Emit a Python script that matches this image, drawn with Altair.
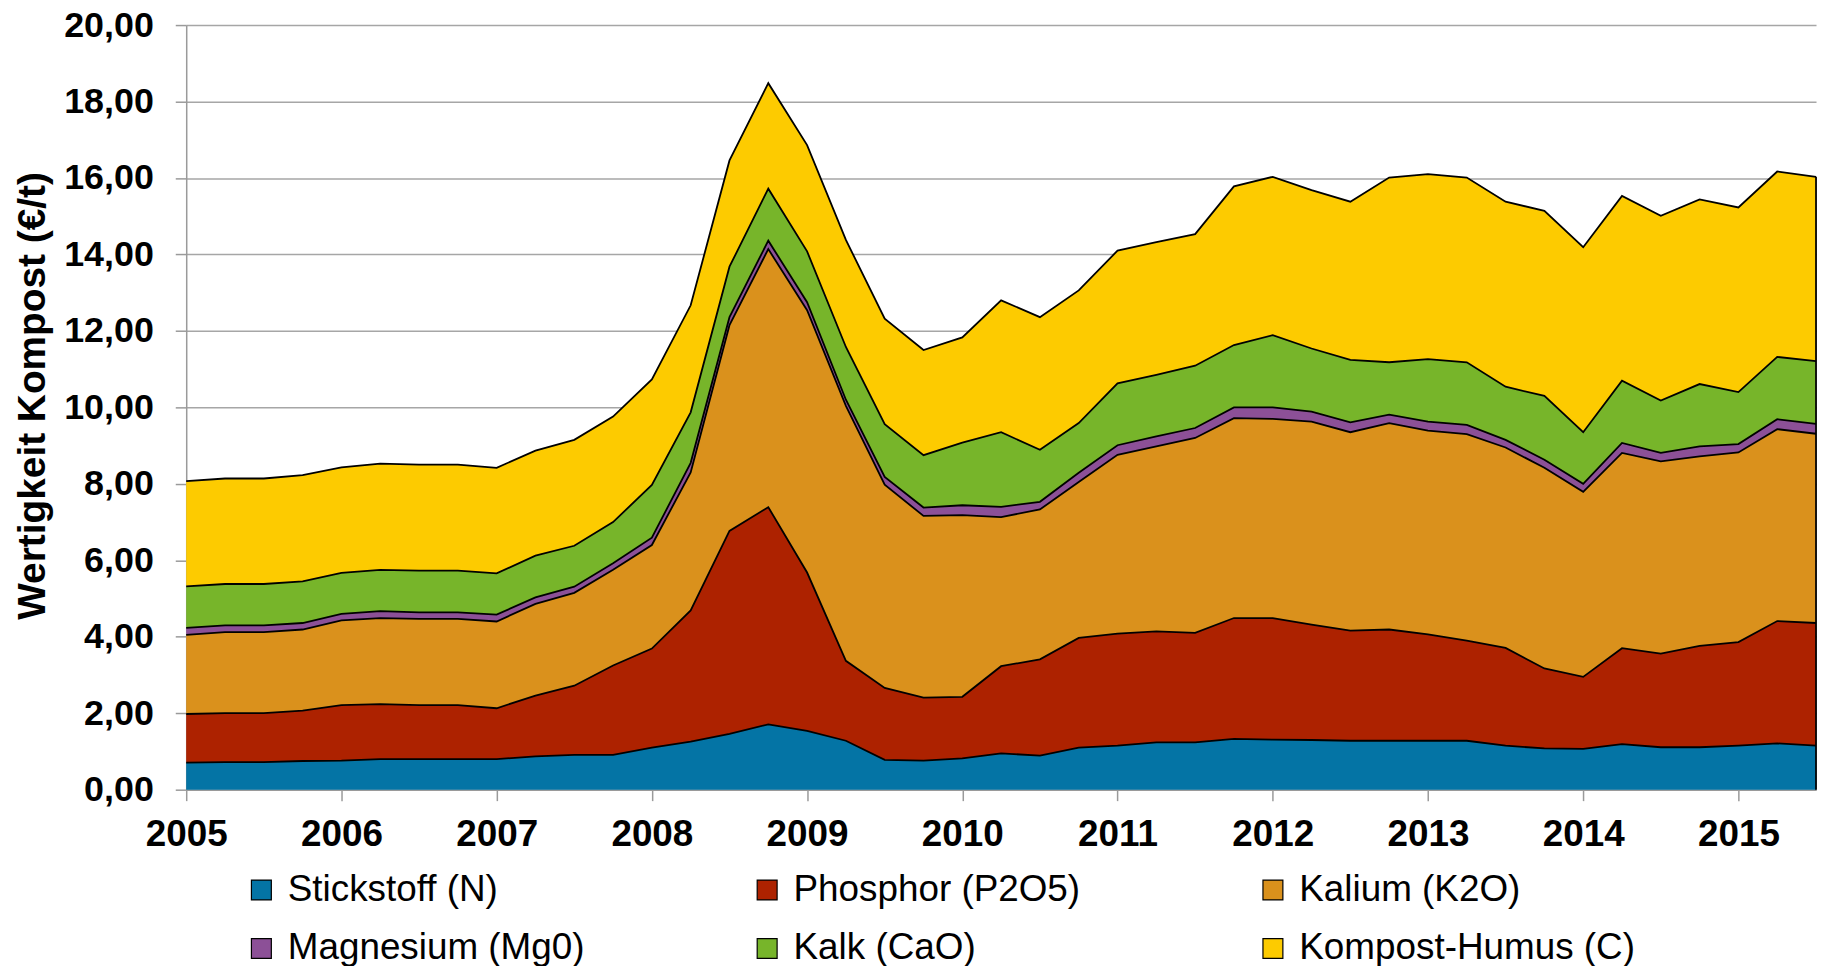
import altair as alt
import pandas as pd

quarters = [2005.0, 2005.25, 2005.5, 2005.75, 2006.0, 2006.25, 2006.5, 2006.75,
            2007.0, 2007.25, 2007.5, 2007.75, 2008.0, 2008.25, 2008.5, 2008.75,
            2009.0, 2009.25, 2009.5, 2009.75, 2010.0, 2010.25, 2010.5, 2010.75,
            2011.0, 2011.25, 2011.5, 2011.75, 2012.0, 2012.25, 2012.5, 2012.75,
            2013.0, 2013.25, 2013.5, 2013.75, 2014.0, 2014.25, 2014.5, 2014.75,
            2015.0, 2015.25, 2015.5]

series_names = ["Stickstoff (N)", "Phosphor (P2O5)", "Kalium (K2O)",
                "Magnesium (Mg0)", "Kalk (CaO)", "Kompost-Humus (C)"]
series_colors = ["#0474A5", "#AD2200", "#DA911C", "#8C5097", "#77B52A", "#FDCB00"]
# legend is laid out column by column: this order gives the reference's rows
legend_order = ["Stickstoff (N)", "Magnesium (Mg0)", "Phosphor (P2O5)",
                "Kalk (CaO)", "Kalium (K2O)", "Kompost-Humus (C)"]

stickstoff = [0.71, 0.72, 0.72, 0.75, 0.76, 0.80, 0.80, 0.80, 0.80, 0.87, 0.91, 0.91, 1.10,
              1.26, 1.46, 1.71, 1.54, 1.28, 0.78, 0.76, 0.82,
              0.95, 0.89, 1.10, 1.15, 1.24, 1.24, 1.33, 1.31,
              1.30, 1.28, 1.28, 1.28, 1.28, 1.15, 1.08, 1.07,
              1.19, 1.11, 1.11, 1.15, 1.21, 1.15]
phosphor = [1.27, 1.28, 1.28, 1.32, 1.45, 1.44, 1.41, 1.41, 1.33, 1.59, 1.81, 2.34, 2.59,
            3.43, 5.31, 5.68, 4.14, 2.09, 1.88, 1.65, 1.61,
            2.28, 2.52, 2.87, 2.93, 2.90, 2.86, 3.16, 3.18,
            3.02, 2.88, 2.91, 2.78, 2.62, 2.56, 2.09, 1.88,
            2.51, 2.45, 2.65, 2.71, 3.20, 3.21]
kalium = [2.07, 2.12, 2.12, 2.12, 2.22, 2.25, 2.26, 2.26, 2.27, 2.40, 2.43, 2.50, 2.71,
          3.61, 5.38, 6.75, 6.86, 6.67, 5.32, 4.75, 4.75,
          3.90, 3.92, 4.08, 4.68, 4.84, 5.10, 5.23, 5.21,
          5.31, 5.19, 5.40, 5.33, 5.40, 5.24, 5.25, 4.84,
          5.11, 5.03, 4.96, 4.96, 5.02, 4.95]
magnesium = [0.18, 0.18, 0.18, 0.17, 0.17, 0.18, 0.17, 0.17, 0.18, 0.17, 0.16, 0.17, 0.19,
             0.25, 0.21, 0.22, 0.21, 0.16, 0.20, 0.22, 0.26,
             0.27, 0.20, 0.24, 0.25, 0.26, 0.26, 0.28, 0.30,
             0.26, 0.26, 0.22, 0.24, 0.24, 0.20, 0.21, 0.21,
             0.26, 0.22, 0.26, 0.22, 0.26, 0.26]
kalk = [1.09, 1.08, 1.08, 1.09, 1.07, 1.08, 1.09, 1.09, 1.08, 1.09, 1.07, 1.08, 1.38,
        1.32, 1.32, 1.36, 1.33, 1.38, 1.38, 1.37, 1.64,
        1.95, 1.36, 1.30, 1.62, 1.61, 1.63, 1.63, 1.89,
        1.65, 1.63, 1.37, 1.63, 1.64, 1.39, 1.67, 1.35,
        1.63, 1.37, 1.63, 1.36, 1.63, 1.64]
humus = [2.75, 2.76, 2.76, 2.78, 2.76, 2.78, 2.77, 2.77, 2.76, 2.75, 2.77, 2.76, 2.76,
         2.80, 2.78, 2.76, 2.78, 2.80, 2.76, 2.75, 2.75,
         3.45, 3.47, 3.47, 3.47, 3.47, 3.44, 4.15, 4.14,
         4.14, 4.14, 4.83, 4.84, 4.83, 4.84, 4.84, 4.84,
         4.83, 4.83, 4.83, 4.83, 4.85, 4.82]

year_ticks = [2005, 2006, 2007, 2008, 2009, 2010, 2011, 2012, 2013, 2014, 2015]
value_ticks = [0, 2, 4, 6, 8, 10, 12, 14, 16, 18, 20]

all_series = [stickstoff, phosphor, kalium, magnesium, kalk, humus]
rows = []
for k, (name, vals) in enumerate(zip(series_names, all_series)):
    for t, v in zip(quarters, vals):
        rows.append({"t": t, "series": name, "order": k, "value": v})
df = pd.DataFrame(rows)

FONT = "Liberation Sans"

base = alt.Chart(df).transform_window(
    hi="sum(value)",
    groupby=["t"],
    sort=[alt.SortField("order")],
    frame=[None, 0],
).transform_calculate(lo="datum.hi - datum.value")

x_enc = alt.X(
    "t:Q",
    scale=alt.Scale(domain=[2005, 2015.5], nice=False, zero=False),
    axis=alt.Axis(
        values=year_ticks, format="d", title=None, grid=False,
        labelFont=FONT, labelFontSize=37, labelFontWeight="bold", labelColor="black",
        labelPadding=16, tickSize=11, tickColor="#9A9A9A", tickWidth=1.5,
        domainColor="#9A9A9A", domainWidth=1.5, labelFlush=False, labelOverlap=False,
    ),
)
y_enc = alt.Y(
    "hi:Q",
    scale=alt.Scale(domain=[0, 20], nice=False),
    axis=alt.Axis(
        values=value_ticks,
        labelExpr="replace(format(datum.value, '.2f'), '.', ',')",
        title="Wertigkeit Kompost (€/t)",
        titleFont=FONT, titleFontSize=39, titleFontWeight="bold", titleColor="black",
        titleAngle=270, titleX=-154, titleY=372, titleAlign="center", titleBaseline="middle",
        labelFont=FONT, labelFontSize=36, labelFontWeight="bold", labelColor="black",
        labelPadding=22, tickSize=11, tickColor="#9A9A9A", tickWidth=1.5,
        domainColor="#9A9A9A", domainWidth=1.5,
        grid=True, gridColor="#A6A6A6", gridWidth=1.5, labelFlush=False,
    ),
)

area = base.mark_area(opacity=1).encode(
    x=x_enc,
    y=y_enc,
    y2="lo:Q",
    color=alt.Color(
        "series:N",
        scale=alt.Scale(domain=series_names, range=series_colors),
        legend=alt.Legend(
            title=None, orient="none", legendX=57, legendY=850,
            values=legend_order,
            columns=3, columnPadding=125, rowPadding=21, gridAlign="all",
            symbolType="square", symbolSize=400, symbolStrokeColor="black",
            symbolStrokeWidth=1.2, symbolOpacity=1,
            labelFont=FONT, labelFontSize=37, labelColor="black",
            labelOffset=8, labelLimit=700, padding=0,
        ),
    ),
)

lines = base.mark_line(color="black", strokeWidth=1.8).encode(
    x=x_enc, y=y_enc, detail="series:N",
)

edge = base.transform_filter("datum.t == 2015.5 && datum.order == 5").mark_rule(
    color="black", strokeWidth=1.8
).encode(x=x_enc, y=y_enc, y2=alt.datum(0))

chart = alt.layer(area, lines, edge).properties(
    width=1637,
    height=768,
    autosize=alt.AutoSizeParams(type="none"),
    padding={"left": 179, "top": 15, "right": 5, "bottom": 185},
    background="white",
).configure_view(stroke=None)

chart.save("out.html", embed_options={"renderer": "svg", "actions": False})
